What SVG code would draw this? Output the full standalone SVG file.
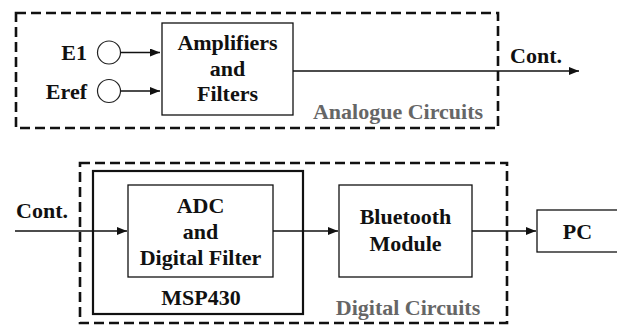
<svg xmlns="http://www.w3.org/2000/svg" width="617" height="326" viewBox="0 0 617 326">
<style>
  text{font-family:'Liberation Serif','DejaVu Serif','Times New Roman',Times,serif;font-weight:700;font-size:22px;}
  .t{fill:#111;}
  .g{fill:#666;}
  .box{fill:#fff;stroke:#111;stroke-width:1.3;}
  .thick{fill:none;stroke:#111;stroke-width:2.2;}
  .dash{fill:none;stroke:#111;stroke-width:2.6;stroke-dasharray:10 5;}
  .ln{fill:none;stroke:#111;stroke-width:1.4;marker-end:url(#ah);}
  .c{fill:#fff;stroke:#222;stroke-width:1.2;}
</style>
<defs>
  <marker id="ah" markerWidth="10" markerHeight="8" refX="10" refY="4" orient="auto" markerUnits="userSpaceOnUse">
    <path d="M0,0 L10,4 L0,8 Z" fill="#111"/>
  </marker>
</defs>
<rect width="617" height="326" fill="#fff"/>

<g id="analogue">
  <rect class="dash" x="16" y="13" width="482" height="115"/>
  <text class="g" x="398" y="119" text-anchor="middle" font-family="Liberation Serif, serif">Analogue Circuits</text>
</g>
<g id="digital">
  <rect class="dash" x="80" y="163" width="427" height="160"/>
  <text class="g" x="408" y="315" text-anchor="middle">Digital Circuits</text>
</g>
<g id="msp430">
  <rect class="thick" x="93" y="171" width="210" height="143"/>
  <text class="t" x="201" y="305" text-anchor="middle">MSP430</text>
</g>

<g id="e1">
  <text class="t" x="87" y="60" text-anchor="end">E1</text>
  <circle class="c" cx="109" cy="52.5" r="11.5"/>
</g>
<g id="eref">
  <text class="t" x="87" y="99" text-anchor="end">Eref</text>
  <circle class="c" cx="109" cy="91" r="11.5"/>
</g>
<g id="amp">
  <rect class="box" x="162" y="23" width="131" height="92"/>
  <text class="t" x="227.5" y="50" text-anchor="middle">Amplifiers</text>
  <text class="t" x="227.5" y="76" text-anchor="middle">and</text>
  <text class="t" x="227.5" y="101" text-anchor="middle">Filters</text>
</g>
<g id="cont-out">
  <text class="t" x="536" y="63" text-anchor="middle">Cont.</text>
</g>
<g id="cont-in">
  <text class="t" x="42" y="218" text-anchor="middle">Cont.</text>
</g>
<g id="adc">
  <rect class="box" x="128" y="185" width="145" height="92"/>
  <text class="t" x="200.5" y="213" text-anchor="middle">ADC</text>
  <text class="t" x="200.5" y="239" text-anchor="middle">and</text>
  <text class="t" x="200.5" y="265" text-anchor="middle">Digital Filter</text>
</g>
<g id="bt">
  <rect class="box" x="339" y="185" width="133" height="92"/>
  <text class="t" x="405.5" y="224" text-anchor="middle">Bluetooth</text>
  <text class="t" x="405.5" y="251" text-anchor="middle">Module</text>
</g>
<g id="pc">
  <rect class="box" x="537" y="210" width="90" height="42"/>
  <text class="t" x="577.5" y="239" text-anchor="middle">PC</text>
</g>

<g id="connectors">
  <line class="ln" x1="120.5" y1="52.5" x2="160" y2="52.5"/>
  <line class="ln" x1="120.5" y1="91" x2="160" y2="91"/>
  <line class="ln" x1="293" y1="71" x2="579" y2="71"/>
  <line class="ln" x1="15" y1="231" x2="127" y2="231"/>
  <line class="ln" x1="273" y1="231" x2="338" y2="231"/>
  <line class="ln" x1="472" y1="231" x2="536" y2="231"/>
</g>
</svg>
